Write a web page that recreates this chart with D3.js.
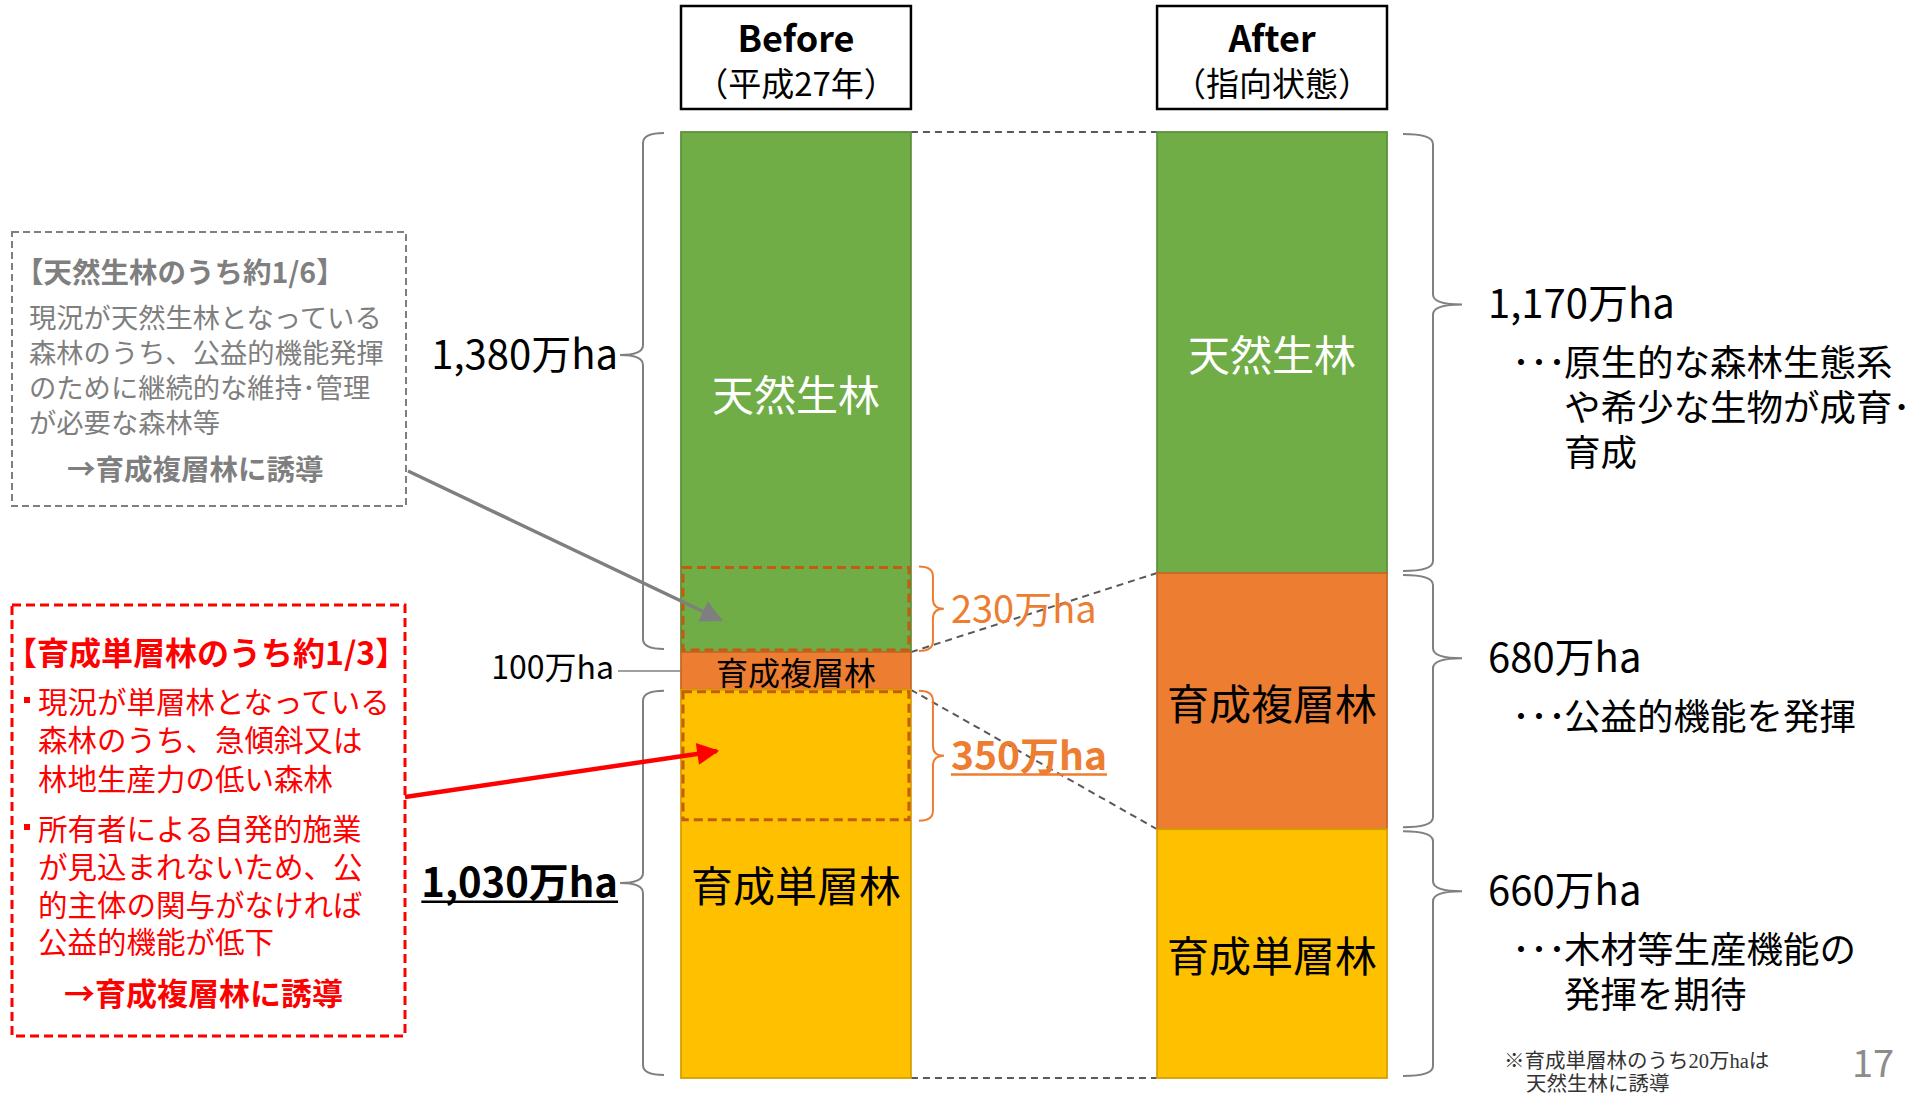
<!DOCTYPE html>
<html>
<head>
<meta charset="utf-8">
<script src="https://cdn.jsdelivr.net/npm/d3@7"></script>
<style>
  body { margin: 0; background: #fff; }
  svg { display: block; }
</style>
</head>
<body>
<div id="chart"></div>
<script>
// データ（万ha）
const periods = ["Before", "After"];
const periodNotes = ["（平成27年）", "（指向状態）"];
const forestTypes = ["天然生林", "育成複層林", "育成単層林"];
const beforeArea = [1380, 100, 1030];
const afterArea = [1170, 680, 660];
const shiftArea = [230, 350]; // 天然生林・育成単層林のうち育成複層林へ誘導
const afterNotes = [
    ["原生的な森林生態系", "や希少な生物が成育･", "育成"],
    ["公益的機能を発揮"],
    ["木材等生産機能の", "発揮を期待"]
];
const grayBoxTitle = "【天然生林のうち約1/6】";
const grayBoxLines = ["現況が天然生林となっている", "森林のうち、公益的機能発揮", "のために継続的な維持･管理", "が必要な森林等"];
const redBoxTitle = "【育成単層林のうち約1/3】";
const redBoxLines = ["・現況が単層林となっている", "森林のうち、急傾斜又は", "林地生産力の低い森林", "・所有者による自発的施業", "が見込まれないため、公", "的主体の関与がなければ", "公益的機能が低下"];
const guideText = "→育成複層林に誘導";
const footnoteLines = ["※育成単層林のうち20万haは", "天然生林に誘導"];
const pageNo = "17";

const FONT = "'Noto Sans CJK JP', 'Noto Sans', sans-serif";
const colors = { "天然生林": "#70AD47", "育成複層林": "#ED7D31", "育成単層林": "#FFC000" };
const fmt = v => d3.format(",")(v) + "万ha";

const svg = d3.select("#chart").append("svg")
    .attr("width", 1914).attr("height", 1094);

// scales
const total = d3.sum(beforeArea);
const y = d3.scaleLinear().domain([0, total]).range([132, 1078]);
const x = d3.scaleBand().domain(periods).range([681, 1387]).paddingInner(0.517);
const bw = x.bandwidth();

function txt(x0, y0, str, size, o = {}) {
    return svg.append("text")
        .attr("x", x0).attr("y", y0)
        .attr("font-size", size)
        .attr("font-weight", o.bold ? 700 : 400)
        .attr("fill", o.fill || "#000")
        .attr("text-anchor", o.anchor || "start")
        .attr("dominant-baseline", o.baseline || "auto")
        .style("font-family", o.family || FONT)
        .text(str);
}

function underline(t, color, w) {
    const b = t.node().getBBox();
    const yy = +t.attr("y") + +t.attr("font-size") * 0.12;
    svg.append("line")
        .attr("x1", b.x).attr("x2", b.x + b.width)
        .attr("y1", yy).attr("y2", yy)
        .attr("stroke", color).attr("stroke-width", w);
}

// curly brace; xEnd = ends, xv = vertical line, xTip = point
function brace(xEnd, xv, xTip, yTop, yBot, yTip) {
    const r = Math.min(10, (yTip - yTop) / 2, (yBot - yTip) / 2);
    const p = d3.path();
    p.moveTo(xEnd, yTop);
    p.quadraticCurveTo(xv, yTop, xv, yTop + r);
    p.lineTo(xv, yTip - r);
    p.quadraticCurveTo(xv, yTip, xTip, yTip);
    p.quadraticCurveTo(xv, yTip, xv, yTip + r);
    p.lineTo(xv, yBot - r);
    p.quadraticCurveTo(xv, yBot, xEnd, yBot);
    return p.toString();
}

// 積み上げ
const stacked = periods.map((p, i) => {
    const vals = i === 0 ? beforeArea : afterArea;
    let acc = 0;
    return forestTypes.map((t, j) => {
        const d = { period: p, type: t, value: vals[j], y0: acc, y1: acc + vals[j] };
        acc += vals[j];
        return d;
    });
});
const segs = stacked.flat();

// header boxes
svg.selectAll(".head")
    .data(periods)
    .enter()
    .append("rect")
        .attr("x", d => x(d)).attr("y", 6)
        .attr("width", bw).attr("height", 103)
        .attr("fill", "#fff").attr("stroke", "#000").attr("stroke-width", 2.5);
periods.forEach((p, i) => {
    txt(x(p) + bw / 2, 52, p, 36, { bold: true, anchor: "middle" });
    txt(x(p) + bw / 2, 96, periodNotes[i], 33, { anchor: "middle" });
});

// connecting dashed lines
const cumB = [0, ...d3.cumsum(beforeArea)];
const cumA = [0, ...d3.cumsum(afterArea)];
svg.selectAll(".conn")
    .data(d3.range(cumB.length))
    .enter()
    .append("line")
        .attr("x1", x("Before") + bw).attr("y1", k => y(cumB[k]))
        .attr("x2", x("After")).attr("y2", k => y(cumA[k]))
        .attr("stroke", "#595959").attr("stroke-width", 2)
        .attr("stroke-dasharray", "7,5");

// bars
svg.selectAll(".seg")
    .data(segs)
    .enter()
    .append("rect")
        .attr("x", d => x(d.period))
        .attr("y", d => y(d.y0))
        .attr("width", bw)
        .attr("height", d => y(d.y1) - y(d.y0))
        .attr("fill", d => colors[d.type])
        .attr("stroke", d => d3.color(colors[d.type]).darker(0.5))
        .attr("stroke-width", 1.8);

// bar labels
segs.forEach(d => {
    const small = d.period === "Before" && d.value < 200;
    txt(x(d.period) + bw / 2, y((d.y0 + d.y1) / 2), d.type, small ? 32 : 42, {
        anchor: "middle", baseline: "central",
        fill: d.type === "天然生林" ? "#fff" : "#000"
    });
});

// dashed boxes (moved area)
const shiftRanges = [
    [beforeArea[0] - shiftArea[0], beforeArea[0]],
    [beforeArea[0] + beforeArea[1], beforeArea[0] + beforeArea[1] + shiftArea[1]]
];
svg.selectAll(".shift")
    .data(shiftRanges)
    .enter()
    .append("rect")
        .attr("x", x("Before") + 2).attr("y", d => y(d[0]) + 2)
        .attr("width", bw - 4).attr("height", d => y(d[1]) - y(d[0]) - 4)
        .attr("fill", "none").attr("stroke", "#C55A11")
        .attr("stroke-width", 3).attr("stroke-dasharray", "9,5");

// orange braces + labels
const bxR = x("Before") + bw;
shiftRanges.forEach((r, i) => {
    const y0 = y(r[0]) + 1, y1 = y(r[1]) - 1, ym = (y0 + y1) / 2;
    svg.append("path")
        .attr("d", brace(bxR + 8, bxR + 22, bxR + 33, y0, y1, ym))
        .attr("fill", "none").attr("stroke", "#ED7D31").attr("stroke-width", 2);
    const t = txt(bxR + 40, ym + 14, fmt(shiftArea[i]), i === 0 ? 38 : 39, {
        fill: "#ED7D31", bold: i === 1
    });
    if (i === 1) underline(t, "#ED7D31", 2.5);
});

// left braces (Before)
const bxL = x("Before");
const leftSpans = [[0, cumB[1], 0.43], [cumB[2], cumB[3], 0.5]];
leftSpans.forEach((s, i) => {
    const y0 = y(s[0]) + 1, y1 = y(s[1]) - 3;
    const ym = y0 + (y1 - y0) * s[2];
    svg.append("path")
        .attr("d", brace(bxL - 17, bxL - 38, bxL - 61, y0, y1, ym))
        .attr("fill", "none").attr("stroke", "#808080").attr("stroke-width", 2);
    const v = i === 0 ? beforeArea[0] : beforeArea[2];
    const t = txt(bxL - 63, ym + 14, fmt(v), 40, { anchor: "end", bold: i === 1 });
    if (i === 1) underline(t, "#000", 2.5);
});

// 100万ha leader
const ymid = y((cumB[1] + cumB[2]) / 2);
svg.append("line")
    .attr("x1", bxL - 63).attr("x2", bxL)
    .attr("y1", ymid).attr("y2", ymid)
    .attr("stroke", "#808080").attr("stroke-width", 1.5);
txt(bxL - 67, ymid + 8, fmt(beforeArea[1]), 32, { anchor: "end" });

// right braces (After)
const axR = x("After") + bw;
const tipFrac = [0.39, 0.33, 0.245];
stacked[1].forEach((d, i) => {
    const y0 = y(d.y0) + 2, y1 = y(d.y1) - 2;
    const ym = y0 + (y1 - y0) * tipFrac[i];
    svg.append("path")
        .attr("d", brace(axR + 16, axR + 46, axR + 75, y0, y1, ym))
        .attr("fill", "none").attr("stroke", "#808080").attr("stroke-width", 2);
    txt(axR + 101, ym + 14, fmt(d.value), 40);
    afterNotes[i].forEach((line, k) => {
        const by = ym + 72 + k * 45;
        if (k === 0) txt(axR + 125, by, "･･･", 36);
        txt(axR + 177, by, line, 36.5);
    });
});

// gray dashed box
svg.append("rect")
    .attr("x", 12).attr("y", 232).attr("width", 394).attr("height", 274)
    .attr("fill", "none").attr("stroke", "#7F7F7F")
    .attr("stroke-width", 2).attr("stroke-dasharray", "7,4");
txt(15, 283, grayBoxTitle, 28.5, { bold: true, fill: "#7F7F7F" });
grayBoxLines.forEach((l, i) => txt(29, 328 + i * 35, l, 27.3, { fill: "#7F7F7F" }));
txt(67, 480, guideText, 28.5, { bold: true, fill: "#7F7F7F" });

// red dashed box
svg.append("rect")
    .attr("x", 12).attr("y", 605).attr("width", 393).attr("height", 431)
    .attr("fill", "none").attr("stroke", "#FF0000")
    .attr("stroke-width", 3).attr("stroke-dasharray", "9,5");
txt(5, 665, redBoxTitle, 32, { bold: true, fill: "#FF0000" });
const redY = [713, 751, 790, 840, 878, 916, 953];
redBoxLines.forEach((l, i) => {
    if (l.startsWith("・")) {
        svg.append("rect").attr("x", 24).attr("y", redY[i] - 16)
            .attr("width", 6).attr("height", 6).attr("fill", "#FF0000");
        l = l.slice(1);
    }
    txt(38, redY[i], l, 29.5, { fill: "#FF0000" });
});
txt(64, 1005, guideText, 31, { bold: true, fill: "#FF0000" });

// arrows
const defs = svg.append("defs");
[["gray", "#7F7F7F", 26, 22], ["red", "#FF0000", 26, 22]].forEach(m => {
    defs.append("marker")
        .attr("id", "arr-" + m[0])
        .attr("viewBox", "0 0 10 10").attr("refX", 9).attr("refY", 5)
        .attr("markerUnits", "userSpaceOnUse")
        .attr("markerWidth", m[2]).attr("markerHeight", m[3])
        .attr("orient", "auto")
        .append("path").attr("d", "M0,0L10,5L0,10z").attr("fill", m[1]);
});
svg.append("line")
    .attr("x1", 408).attr("y1", 471).attr("x2", 721).attr("y2", 620)
    .attr("stroke", "#7F7F7F").attr("stroke-width", 3.5)
    .attr("marker-end", "url(#arr-gray)");
svg.append("line")
    .attr("x1", 405).attr("y1", 797).attr("x2", 717).attr("y2", 751)
    .attr("stroke", "#FF0000").attr("stroke-width", 4.5)
    .attr("marker-end", "url(#arr-red)");

// footnote and page number
const serif = "'Liberation Serif', 'Noto Sans CJK JP', serif";
txt(1504, 1068, footnoteLines[0], 20.5, { fill: "#333", family: serif });
txt(1526, 1091, footnoteLines[1], 20.5, { fill: "#333", family: serif });
txt(1852, 1077, pageNo, 38, { fill: "#8C8C8C" });
</script>
</body>
</html>
